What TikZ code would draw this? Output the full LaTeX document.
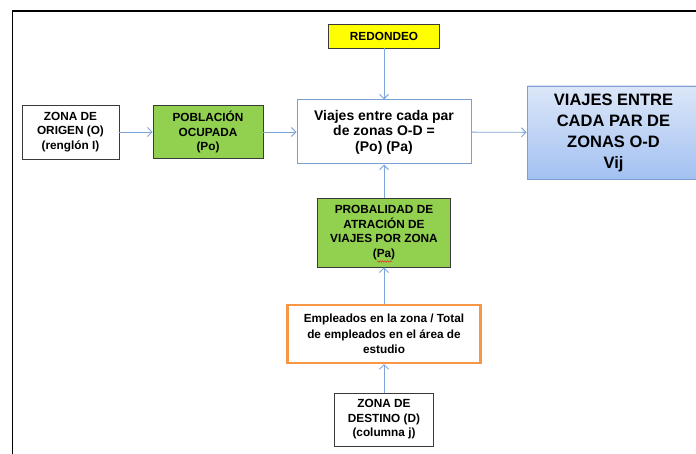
\documentclass[tikz,border=0pt]{standalone}
\usepackage{fontspec}
\setmainfont{Liberation Sans}
\usetikzlibrary{arrows.meta,shadows,decorations.pathmorphing}
\definecolor{grn}{HTML}{92D050}
\definecolor{ylw}{HTML}{FFFF00}
\definecolor{org}{HTML}{F79646}
\definecolor{bluebd}{HTML}{7A9FD0}
\definecolor{arrowblue}{HTML}{7FA6DA}
\definecolor{vijtop}{HTML}{DCE7F8}
\definecolor{vijbot}{HTML}{A3C1F2}
\definecolor{darkbd}{HTML}{3A3A3A}
\definecolor{squig}{HTML}{E23A2A}
\begin{document}
\begin{tikzpicture}[x=1pt,y=-1pt,
  box/.style={draw=darkbd, line width=0.8pt, inner sep=0pt, align=center,
    font=\bfseries\fontsize{11.8}{14.5}\selectfont},
  arr/.style={draw=arrowblue, line width=0.9pt, -{Straight Barb[length=4.5pt,width=9pt]}}]
\useasboundingbox (0,0) rectangle (696,454);
% frame
\draw[line width=1.8pt] (12.5,470) -- (12.5,11) -- (710,11);
% nodes
\node[box, minimum width=97pt, minimum height=54pt] (orig) at (70.5,132) {ZONA DE\\ORIGEN (O)\\(renglón I)};
\node[box, fill=grn, minimum width=110pt, minimum height=53pt] (pob) at (208,132) {POBLACIÓN\\OCUPADA\\(Po)};
\node[box, draw=bluebd, line width=1pt, minimum width=174pt, minimum height=64pt,
  font=\bfseries\fontsize{14}{15.5}\selectfont] (via) at (384,132) {Viajes entre cada par\\de zonas O-D =\\(Po) (Pa)};
\node[box, fill=ylw, minimum width=111pt, minimum height=24pt] (red) at (384,36) {REDONDEO};
\node[box, draw=bluebd, line width=0.9pt, top color=vijtop, bottom color=vijbot,
  drop shadow={shadow xshift=1.5pt, shadow yshift=-1.5pt, opacity=0.35},
  minimum width=173pt, minimum height=93pt,
  font=\bfseries\fontsize{16.5}{21}\selectfont] (vij) at (613.5,132.5) {VIAJES ENTRE\\CADA PAR DE\\ZONAS O-D\\Vij};
\node[box, fill=grn, minimum width=133pt, minimum height=69pt] (prob) at (384,232.5) {PROBALIDAD DE\\ATRACIÓN DE\\VIAJES POR ZONA\\(Pa)};
\node[box, draw=org, line width=2.4pt, minimum width=193pt, minimum height=58pt,
  font=\bfseries\fontsize{11.8}{15.5}\selectfont] (emp) at (384,334) {Empleados en la zona / Total\\de empleados en el área de\\estudio};
\node[box, minimum width=99pt, minimum height=53pt] (dest) at (384,419.5) {ZONA DE\\DESTINO (D)\\(columna j)};
% spell-check squiggle
\draw[squig, line width=0.6pt, decorate, decoration={snake, amplitude=0.7pt, segment length=2.5pt}] (377,261.5) -- (392,261.5);
% connectors
\draw[arr] (orig) -- (pob);
\draw[arr] (pob) -- (via);
\draw[arr] (via) -- (vij);
\draw[arr] (red) -- (via);
\draw[arr] (prob) -- (via);
\draw[arr] (emp) -- (prob);
\draw[arr] (dest) -- (emp);
\end{tikzpicture}
\end{document}
